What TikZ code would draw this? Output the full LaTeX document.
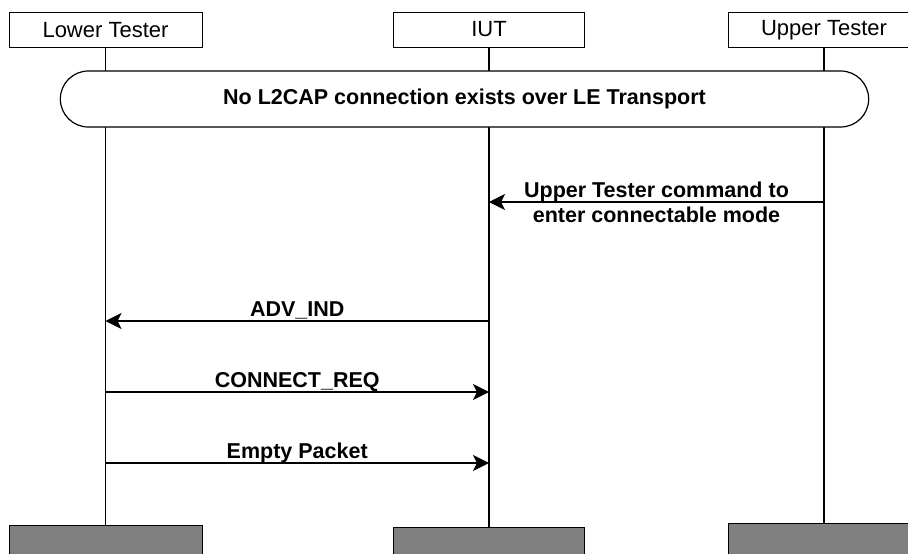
\documentclass[tikz,border=0pt]{standalone}
\usepackage{fontspec}
\setmainfont{Liberation Sans}
\usetikzlibrary{positioning, arrows.meta, shapes.misc}

\definecolor{endgray}{HTML}{808080}

\begin{document}
\begin{tikzpicture}[x=1pt, y=-1pt, ->, >={Stealth[length=16pt,width=16pt,inset=4pt]},
                  font=\fontsize{22}{26}\selectfont,
                  actor/.style={draw, -, line width=0.9pt, fill=white,
                    minimum height=35pt, inner sep=0pt},
                  endbox/.style={draw, -, line width=0.9pt, fill=endgray,
                    minimum height=40pt, anchor=north, inner sep=0pt},
                  lifeline/.style={-, line width=1.9pt},
                  msg/.style={line width=1.4pt},
                  lbl/.style={font=\fontsize{21.5}{25}\selectfont\bfseries}]
                  \useasboundingbox (0,0) rectangle (908,554);

                  % Entidades de la prueba.
                  \node[actor, minimum width=193pt] (lt) at (105.5,30) {Lower Tester};
                  \node[actor, minimum width=191pt] (iut) at (489,29.5) {IUT};
                  \node[actor, minimum width=192pt] (ut) at (824,30) {Upper Tester};
                  \node[endbox, minimum width=193pt] (ltEnd) at (105.5,525) {};
                  \node[endbox, minimum width=191pt] (iutEnd) at (489,527) {};
                  \node[endbox, minimum width=192pt] (utEnd) at (824,523) {};

                  % Lineas de vida.
                  \draw[lifeline] (lt.south) -- (ltEnd.north);
                  \draw[lifeline] (iut.south) -- (iutEnd.north);
                  \draw[lifeline] (ut.south) -- (utEnd.north);

                  % Condicion inicial.
                  \node[rounded rectangle, draw, -, line width=1.2pt, fill=white,
                    rounded rectangle arc length=180,
                    minimum width=815pt, minimum height=56pt, lbl]
                    (cond) at (464.5,99) {No L2CAP connection exists over LE Transport};

                  % Mensajes.
                  \coordinate (m1) at (0,202);
                  \coordinate (m2) at (0,321);
                  \coordinate (m3) at (0,392);
                  \coordinate (m4) at (0,463);
                  \draw[msg] (ut |- m1) -- node[lbl, align=center]
                  {Upper Tester command to\\enter connectable mode} (iut |- m1);
                  \draw[msg] (iut |- m2) -- node[lbl, anchor=base, yshift=5pt]
                  {ADV\_IND} (lt |- m2);
                  \draw[msg] (lt |- m3) -- node[lbl, anchor=base, yshift=5pt]
                  {CONNECT\_REQ} (iut |- m3);
                  \draw[msg] (lt |- m4) -- node[lbl, anchor=base, yshift=5pt]
                  {Empty Packet} (iut |- m4);

\end{tikzpicture}
\end{document}
